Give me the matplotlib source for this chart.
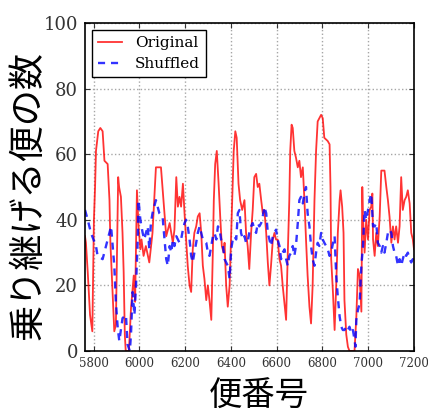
import matplotlib
matplotlib.use("Agg")
from matplotlib import pyplot as plt

# flight number vs number of connectable flights
red_x = [5762, 5766, 5774, 5784, 5794, 5801, 5806, 5810, 5820, 5829, 5839, 5847,
         5861, 5869, 5873, 5883, 5890, 5897, 5907, 5911, 5919, 5926, 5931, 5936,
         5940, 5954, 5963, 5975, 5981, 5989, 5996, 6004, 6009, 6018, 6028, 6043,
         6057, 6072, 6094, 6104,
         6117, 6132, 6139, 6146, 6153, 6161, 6168, 6175, 6182, 6190, 6197, 6204,
         6211, 6219, 6226, 6233, 6240, 6248, 6255, 6263, 6270, 6277, 6284, 6292,
         6299, 6306, 6314, 6321, 6325, 6331, 6338, 6346, 6353, 6360, 6368, 6372,
         6379, 6386, 6394, 6401, 6408, 6412, 6419, 6425, 6433, 6440, 6449, 6459,
         6466,
         6473, 6480, 6488, 6495, 6502, 6510, 6517, 6524, 6532, 6539, 6546, 6554,
         6561, 6568, 6575, 6583, 6590, 6597, 6604, 6612, 6619, 6626, 6634, 6641,
         6648, 6655, 6659, 6665, 6670, 6677, 6684, 6692, 6699, 6706, 6714, 6721,
         6728, 6735, 6743, 6750, 6757, 6765, 6772, 6779, 6794, 6801, 6808, 6823,
         6831, 6835, 6838, 6846, 6853, 6860, 6867, 6875, 6879, 6886, 6892, 6896,
         6904, 6911, 6918, 6926, 6940, 6948, 6955, 6962, 6970, 6974, 6977, 6984,
         6991, 6999, 7006, 7013, 7018, 7021, 7028, 7035, 7042, 7050, 7057, 7071,
         7079, 7086, 7093, 7101, 7108, 7115, 7122, 7130, 7137, 7144, 7151, 7159,
         7166, 7173, 7181, 7188, 7195, 7200]
red_y = [35, 33, 24, 11, 6, 40, 50, 61, 67, 68, 67, 58,
         57, 46, 33, 17, 6, 8, 53, 50, 47, 36, 24, 5,
         0, 0, 13, 23, 15, 49, 38, 31, 34, 29, 32, 27,
         36, 56, 56, 47,
         35, 39, 36, 33, 37, 53, 44, 47, 44, 51, 42, 34,
         26, 20, 18, 31, 36, 38, 41, 42, 36, 26, 22, 15.5,
         20, 15.5, 9.5, 31, 46, 57, 61, 51, 41, 32, 30, 33,
         20, 13.5, 20, 36, 51, 61, 67, 65, 51, 46, 43, 46,
         36,
         32, 25, 36, 43, 53, 54, 50, 51, 46, 42, 43, 36,
         27, 20, 26, 34, 36, 34, 34, 28, 26, 20, 14.5, 9.5,
         29, 46, 61, 69, 68, 61, 59, 56, 58, 53, 56, 46,
         34, 23, 13.5, 8.4, 20, 46, 61, 70, 72, 71, 65, 64,
         63, 50, 28, 17.5, 6.4, 20, 36, 46, 49, 44, 36, 15.5,
         5, 1.3, 0, 0, 0, 10.5, 25, 23, 12, 50, 41, 30,
         40, 34, 43, 44, 48, 34, 29, 36, 32, 41, 55, 55,
         50, 46, 41, 33, 38, 34, 38, 33, 38, 53, 43, 46,
         47, 49, 45, 36, 34, 31]

blue_x = [5762, 5766, 5774, 5788, 5810, 5817, 5839, 5854, 5869, 5876, 5883, 5890,
          5897, 5905, 5912, 5926, 5941, 5948, 5958, 5963, 5970, 5978, 5985, 5992,
          5996, 6004, 6014, 6021, 6036, 6043, 6050, 6057, 6072, 6087, 6101,
          6117, 6124, 6132, 6139, 6146, 6153, 6161, 6175, 6182, 6190, 6197, 6204,
          6211, 6219, 6226, 6233, 6240, 6248, 6255, 6263, 6270, 6277, 6292, 6299,
          6306, 6314, 6321, 6328, 6336, 6343, 6350, 6357, 6365, 6372, 6379, 6386,
          6394, 6401, 6408, 6415, 6423, 6430, 6437, 6444, 6452, 6459, 6466,
          6473, 6480, 6488, 6495, 6502, 6510, 6517, 6524, 6532, 6539, 6546, 6554,
          6561, 6568, 6575, 6583, 6590, 6597, 6604, 6612, 6619, 6626, 6634, 6641,
          6648, 6655, 6663, 6670, 6677, 6684, 6692, 6699, 6706, 6714, 6721, 6728,
          6735, 6743, 6750, 6757, 6765, 6772, 6779, 6786, 6794, 6801, 6808, 6816,
          6823,
          6831, 6838, 6846, 6853, 6860, 6867, 6875, 6882, 6889, 6896, 6904, 6911,
          6918, 6926, 6933, 6940, 6944, 6948, 6955, 6962, 6970, 6977, 6984, 6991,
          6999, 7006, 7013, 7021, 7028, 7035, 7042, 7050, 7057, 7064, 7071, 7079,
          7086, 7093, 7101, 7108, 7115, 7122, 7130, 7137, 7144, 7151, 7159, 7166,
          7173, 7181, 7188, 7195, 7200]
blue_y = [43, 42, 40, 36, 32, 29, 28, 32, 36, 38, 32, 26,
          15, 7, 3, 10, 11, 2, 0, 5, 18, 11, 20, 33,
          46, 40, 36, 34, 38, 31, 39, 42, 46, 42, 41,
          28, 26, 32, 30, 34, 32, 35, 33, 34, 37, 39, 40,
          38, 34, 29, 27, 30, 33, 36, 38, 36, 34, 33, 30,
          29, 32, 35, 36, 34, 38, 37, 34, 32, 28, 27, 26,
          22, 31, 34, 35, 34, 42, 43, 36, 34, 35, 33,
          33, 36, 38, 39, 37, 36, 39, 38, 39, 41, 44, 42,
          36, 34, 32, 35, 36, 37, 34, 32, 28, 30, 31, 28,
          26, 29, 30, 32, 29, 32, 39, 46, 47, 45, 48, 50,
          42, 38, 32, 28, 26, 30, 33, 32, 36, 34, 33, 32,
          31,
          29, 30, 33, 35, 23, 16.5, 10.5, 7.4, 6.4, 6.4, 7.4, 6.4,
          7.4, 5.4, 6.4, 3.4, 1.3, 9.5, 12.5, 14.4, 26, 32, 43, 40,
          43, 46, 48, 38, 38, 39, 33, 32, 30, 32, 30, 33,
          36, 37, 36, 32, 30, 29, 26, 28, 26, 28, 30, 29,
          30, 28, 27, 28, 27]

x_ticks = [5800, 6000, 6200, 6400, 6600, 6800, 7000, 7200]
y_ticks = [0, 20, 40, 60, 80, 100]

plt.rcParams['font.family'] = ['DejaVu Serif']
plt.rcParams['xtick.direction'] = 'in'
plt.rcParams['ytick.direction'] = 'in'

fig = plt.figure(figsize=(4.28, 4.16), dpi=100)
ax = fig.add_axes([85 / 428, 65 / 416, 329 / 428, 328 / 416])

ax.plot(red_x, red_y, color='#ff0000', lw=1.3, alpha=0.8, label='Original')
ax.plot(blue_x, blue_y, color='#0000ff', lw=1.7, ls='--', dashes=(3, 2.5),
        alpha=0.8, label='Shuffled')

ax.set_xlim(5762, 7200)
ax.set_ylim(0, 100)
ax.set_xticks(x_ticks)
ax.set_yticks(y_ticks)
ax.tick_params(axis='x', labelsize=8.5, top=True, pad=4, colors='0.2')
ax.tick_params(axis='y', labelsize=13, right=True, pad=5, colors='0.2')
ax.grid(True, color='0.65', ls=':', lw=1)
for s in ax.spines.values():
    s.set_linewidth(1.2)

leg = ax.legend(loc='upper left', fontsize=11, handlelength=1.6,
                fancybox=False, borderaxespad=0.45, framealpha=1,
                labelspacing=0.45)
leg.get_frame().set_edgecolor('black')
leg.get_frame().set_linewidth(1.0)

fig.text(28 / 428, 1 - 195 / 416, '乗り継げる便の数', rotation=90,
         ha='center', va='center', fontsize=26, family=['Noto Sans CJK JP'])
fig.text(259 / 428, 1 - 396 / 416, '便番号', ha='center', va='center',
         fontsize=24, family=['Noto Sans CJK JP'])

fig.savefig('out.png', dpi=100, facecolor='white')
